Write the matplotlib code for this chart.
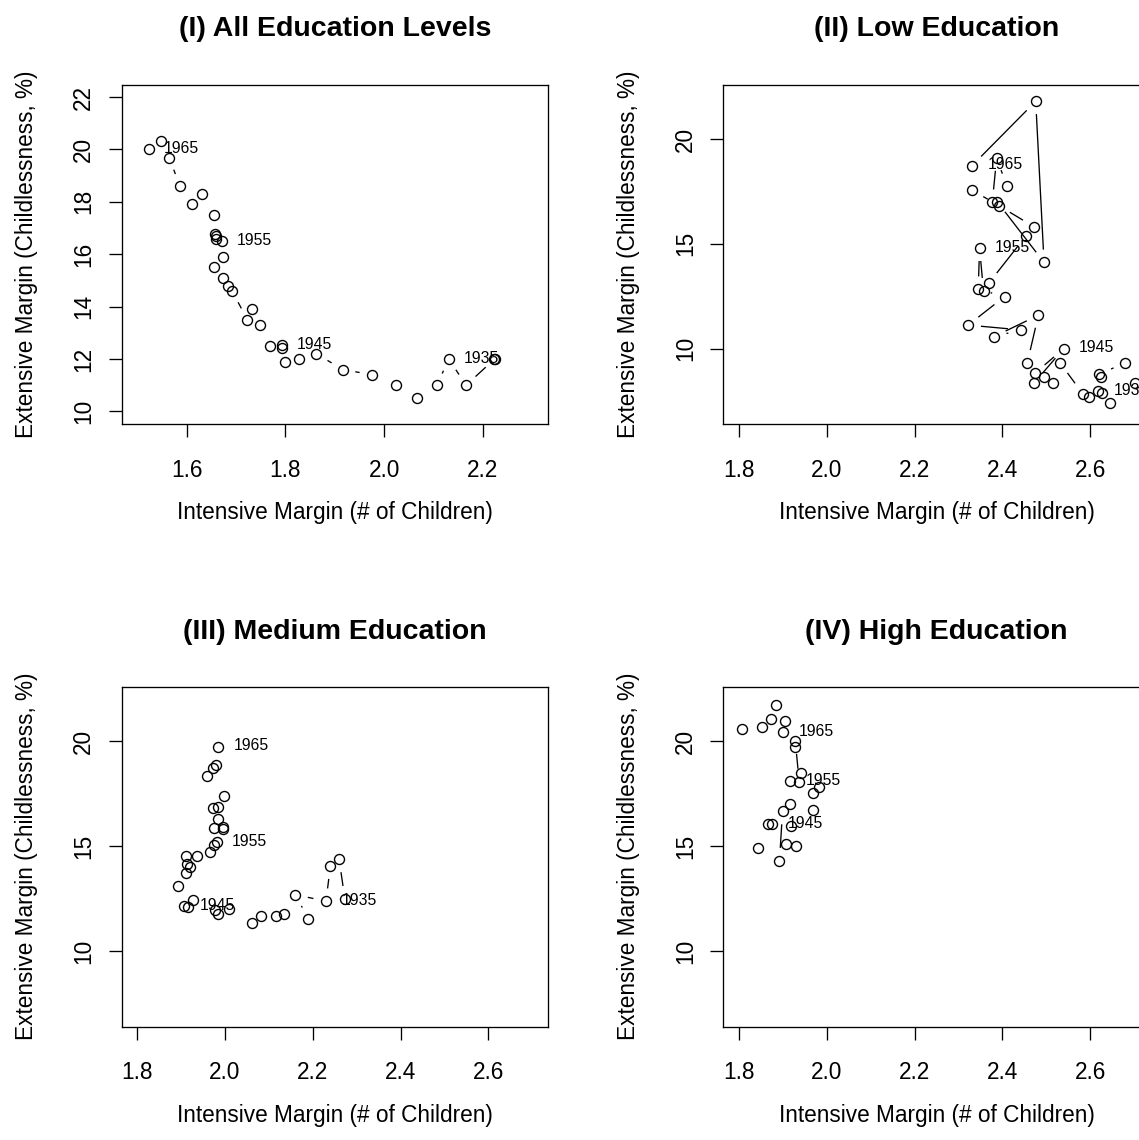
import numpy as np
import matplotlib
matplotlib.use("Agg")
from matplotlib import pyplot as plt

plt.rcParams['font.family'] = ['Liberation Sans', 'DejaVu Sans']

# (I) all education levels, cohorts in plotting order
x_all = [2.222, 2.225, 2.166, 2.131, 2.107, 2.067, 2.025, 1.976, 1.916, 1.863,
         1.828, 1.800, 1.793, 1.793, 1.768, 1.749, 1.733, 1.723, 1.692, 1.684,
         1.673, 1.655, 1.673, 1.671, 1.660, 1.659, 1.657, 1.656, 1.632, 1.611,
         1.586, 1.565, 1.549, 1.523]
y_all = [12.0, 12.02, 11.0, 12.0, 11.0, 10.5, 11.0, 11.4, 11.6, 12.2,
         12.0, 11.9, 12.41, 12.52, 12.51, 13.29, 13.9, 13.5, 14.6, 14.79,
         15.11, 15.5, 15.91, 16.5, 16.6, 16.69, 16.79, 17.5, 18.29, 17.9,
         18.6, 19.69, 20.31, 20.0]
lab_all = {3: "1935", 13: "1945", 23: "1955", 33: "1965"}

# (II) low education
x_low = [2.702, 2.680, 2.621, 2.625, 2.646, 2.618, 2.627, 2.598, 2.583, 2.531,
         2.516, 2.494, 2.473, 2.540, 2.474, 2.457, 2.482, 2.381, 2.442, 2.322,
         2.405, 2.345, 2.348, 2.357, 2.369, 2.454, 2.472, 2.392, 2.331, 2.377,
         2.387, 2.410, 2.388, 2.495, 2.476, 2.331]
y_low = [8.38, 9.33, 8.77, 8.62, 7.39, 7.98, 7.90, 7.71, 7.85, 9.33,
         8.34, 8.65, 8.38, 10.0, 8.82, 9.33, 11.59, 10.57, 10.89, 11.12,
         12.48, 12.83, 14.79, 12.76, 13.12, 15.38, 15.81, 16.82, 17.56, 16.98,
         19.09, 17.77, 17.01, 14.11, 21.80, 18.73]
lab_low = {5: "1935", 13: "1945", 22: "1955", 35: "1965"}

# (III) medium education
x_med = [2.273, 2.260, 2.240, 2.230, 2.160, 2.190, 2.134, 2.117, 2.081, 2.062,
         2.010, 1.984, 1.977, 1.916, 1.907, 1.927, 1.892, 1.911, 1.920, 1.913,
         1.912, 1.937, 1.966, 1.974, 1.981, 1.975, 1.996, 1.996, 1.984, 1.973,
         1.984, 1.998, 1.958, 1.972, 1.979, 1.984]
y_med = [12.50, 14.37, 14.05, 12.38, 12.69, 11.54, 11.75, 11.67, 11.67, 11.32,
         11.99, 11.78, 11.94, 12.08, 12.15, 12.45, 13.10, 13.72, 14.01, 14.17,
         14.53, 14.53, 14.72, 15.04, 15.20, 15.87, 15.91, 15.83, 16.31, 16.84,
         16.87, 17.38, 18.35, 18.74, 18.89, 19.76]
lab_med = {3: "1935", 14: "1945", 24: "1955", 35: "1965"}

# (IV) high education
x_high = [1.844, 1.865, 1.875, 1.919, 1.930, 1.907, 1.892, 1.899, 1.916, 1.968,
          1.982, 1.968, 1.916, 1.940, 1.937, 1.928, 1.927, 1.901, 1.905, 1.884,
          1.873, 1.852, 1.806]
y_high = [14.91, 16.04, 16.07, 15.95, 14.99, 15.09, 14.31, 16.66, 17.03, 16.74,
          17.85, 17.55, 18.11, 18.51, 18.09, 20.02, 19.76, 20.45, 20.97, 21.72,
          21.08, 20.68, 20.60]
lab_high = {2: "1945", 12: "1955", 17: "1965"}

W, H = 1139, 1140
fig = plt.figure(figsize=(W / 100, H / 100), dpi=100)


def add_panel(left, top, title, xs, ys, labels, xlim, ylim, xticks, yticks):
    # box size in pixels, same for every panel
    w, h = 426.5, 339.5
    ax = fig.add_axes([left / W, (H - top - h) / H, w / W, h / H])
    ax.set_xlim(*xlim)
    ax.set_ylim(*ylim)
    ax.set_xticks(xticks, ['%.1f' % v for v in xticks])
    ax.set_yticks(yticks, ['%d' % v for v in yticks], rotation=90, va='center')
    ax.tick_params(direction='out', length=9.4, width=0.95, labelsize=16.3)
    ax.tick_params(axis='x', pad=15.5)
    ax.tick_params(axis='y', pad=9.5)
    for s in ax.spines.values():
        s.set_linewidth(0.95)
    ax.set_title(title, fontsize=20.5, fontweight='bold', y=1 + 55 / h, pad=0, va='center')
    ax.set_xlabel('Intensive Margin (# of Children)', fontsize=16.3)
    ax.xaxis.set_label_coords(0.5, -89 / h)
    ax.xaxis.label.set_va('center')
    ax.set_ylabel('Extensive Margin (Childlessness, %)', fontsize=16.3)
    ax.yaxis.set_label_coords(-95 / w, 0.5)
    ax.yaxis.label.set_va('center')

    ax.plot(xs, ys, 'o', ms=7.2, mfc='none', mec='black', mew=1.0)

    # type="b" style: lines between points, broken around each symbol
    gap = 13.5
    pts = ax.transData.transform(np.column_stack([xs, ys]))
    inv = ax.transData.inverted()
    for p, q in zip(pts[:-1], pts[1:]):
        d = q - p
        L = np.hypot(*d)
        if L > 2 * gap:
            seg = inv.transform([p + d / L * gap, q - d / L * gap])
            ax.plot(seg[:, 0], seg[:, 1], color='black', lw=0.95)

    for i, txt in labels.items():
        ax.annotate(txt, (xs[i], ys[i]), xytext=(11, 0.5), textcoords='offset points',
                    ha='left', va='center', fontsize=11.3, annotation_clip=False)
    return ax


add_panel(121.5, 84.5, '(I) All Education Levels', x_all, y_all, lab_all,
          (1.468, 2.332), (9.52, 22.48), [1.6, 1.8, 2.0, 2.2], [10, 12, 14, 16, 18, 20, 22])
add_panel(723.3, 84.5, '(II) Low Education', x_low, y_low, lab_low,
          (1.764, 2.736), (6.4, 22.6), [1.8, 2.0, 2.2, 2.4, 2.6], [10, 15, 20])
add_panel(121.5, 687, '(III) Medium Education', x_med, y_med, lab_med,
          (1.764, 2.736), (6.4, 22.6), [1.8, 2.0, 2.2, 2.4, 2.6], [10, 15, 20])
add_panel(723.3, 687, '(IV) High Education', x_high, y_high, lab_high,
          (1.764, 2.736), (6.4, 22.6), [1.8, 2.0, 2.2, 2.4, 2.6], [10, 15, 20])

fig.savefig('out.png', dpi=100)
